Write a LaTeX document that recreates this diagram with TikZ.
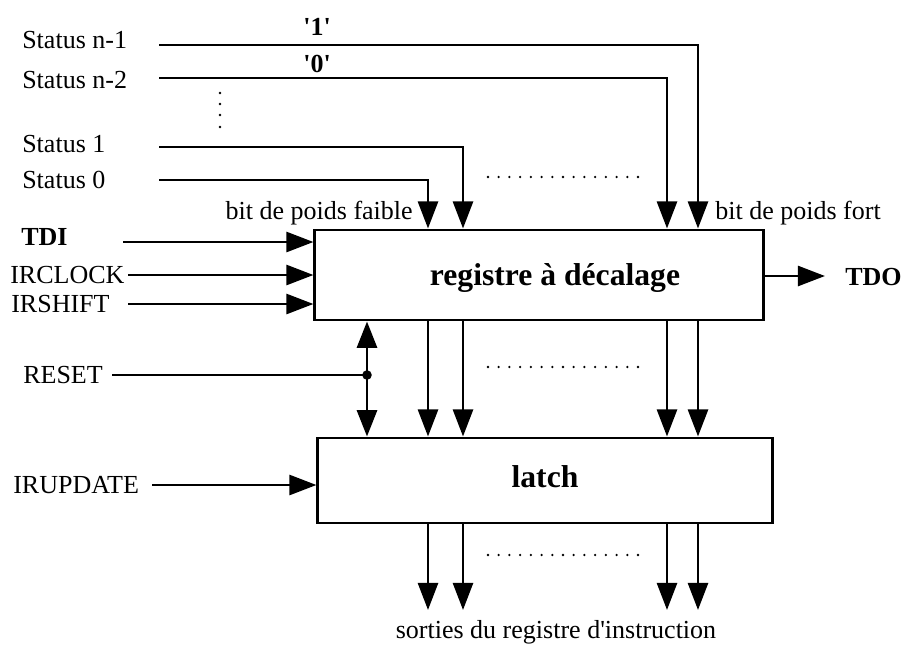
\documentclass[tikz,border=0pt]{standalone}
\usepackage{fontspec}
\setmainfont{Liberation Serif}
\usetikzlibrary{arrows.meta}

\begin{document}
\begin{tikzpicture}[x=0.025cm, y=-0.025cm,
    wire/.style={line width=1.6pt},
    sig/.style={line width=2.1pt, -{Triangle[length=0.68cm,width=0.5cm]}},
    dsig/.style={line width=2.1pt, {Triangle[length=0.66cm,width=0.5cm]}-{Triangle[length=0.66cm,width=0.5cm]}},
    blockbox/.style={draw, line width=2.1pt, inner sep=0pt},
    lbl/.style={inner sep=0pt, font=\fontsize{18.5}{22}\selectfont},
    blbl/.style={inner sep=0pt, font=\fontsize{18.5}{22}\selectfont\bfseries},
    title/.style={inner sep=0pt, font=\fontsize{22.5}{27}\selectfont\bfseries}]
    \useasboundingbox (0,0) rectangle (902,646);

    % the two blocks
    \node[blockbox, minimum width=11.2cm, minimum height=2.25cm] (shreg) at (539,275) {};
    \node[title, anchor=base] (shregtxt) at (555,285) {registre à décalage};
    \node[blockbox, minimum width=11.35cm, minimum height=2.125cm] (latch) at (545,480.5) {};
    \node[title, anchor=base] (latchtxt) at (545,487) {latch};

    % labels
    \node[lbl, anchor=base west] (lsn1) at (22,48) {Status n-1};
    \node[lbl, anchor=base west] (lsn2) at (22,88) {Status n-2};
    \node[lbl, anchor=base west] (ls1) at (22,152) {Status 1};
    \node[lbl, anchor=base west] (ls0) at (22,188) {Status 0};
    \node[blbl, anchor=base west] (ltdi) at (21,245) {TDI};
    \node[lbl, anchor=base west] (lclk) at (10,283) {IRCLOCK};
    \node[lbl, anchor=base west] (lshift) at (11,312) {IRSHIFT};
    \node[lbl, anchor=base west] (lreset) at (23,383) {RESET};
    \node[lbl, anchor=base west] (lupd) at (13,493) {IRUPDATE};
    \node[blbl, anchor=base west] (ltdo) at (845,285) {TDO};
    \node[blbl, anchor=base] (one) at (317,35) {\textquotesingle 1\textquotesingle};
    \node[blbl, anchor=base] (zero) at (317,72) {\textquotesingle 0\textquotesingle};
    \node[lbl, anchor=base east] (lsb) at (413,219) {bit de poids faible};
    \node[lbl, anchor=base west] (msb) at (715,219) {bit de poids fort};
    \node[lbl, anchor=base] (outs) at (556,638) {sorties du registre d\textquotesingle instruction};

    % wire ends and bit columns
    \coordinate (sn1) at (159,45);
    \coordinate (sn2) at (159,78);
    \coordinate (s1) at (159,147);
    \coordinate (s0) at (159,180);
    \coordinate (tdi) at (123,242);
    \coordinate (clk) at (128,275);
    \coordinate (shift) at (128,304);
    \coordinate (reset) at (112,375);
    \coordinate (upd) at (152,485);
    \coordinate (tdo) at (825,276);
    \coordinate (out) at (0,610);
    \coordinate (rst) at (367,0);
    \coordinate (b0) at (428,0);
    \coordinate (b1) at (463,0);
    \coordinate (b2) at (667,0);
    \coordinate (b3) at (698,0);

    % status inputs
    \draw[sig] (sn1) -| (b3 |- shreg.north);
    \draw[sig] (sn2) -| (b2 |- shreg.north);
    \draw[sig] (s1) -| (b1 |- shreg.north);
    \draw[sig] (s0) -| (b0 |- shreg.north);

    % control inputs
    \draw[sig] (tdi) -- (tdi -| shreg.west);
    \draw[sig] (clk) -- (clk -| shreg.west);
    \draw[sig] (shift) -- (shift -| shreg.west);
    \draw[sig] (upd) -- (upd -| latch.west);
    \draw[sig] (shreg.east |- tdo) -- (tdo);

    % reset
    \draw[wire] (reset) -- (rst |- reset);
    \fill (rst |- reset) circle (3.4pt);
    \draw[dsig] (rst |- shreg.south) -- (rst |- latch.north);

    % parallel bits
    \foreach \b in {b0,b1,b2,b3} {
        \draw[sig] (\b |- shreg.south) -- (\b |- latch.north);
        \draw[sig] (\b |- latch.south) -- (\b |- out);
    }

    % dots
    \foreach \y in {177,367,555}
        \foreach \i in {0,...,14}
            \fill (488+\i*10.714,\y) circle (0.9pt);
    \foreach \y in {93,104,115,127}
        \fill (220,\y) circle (0.9pt);
\end{tikzpicture}
\end{document}
